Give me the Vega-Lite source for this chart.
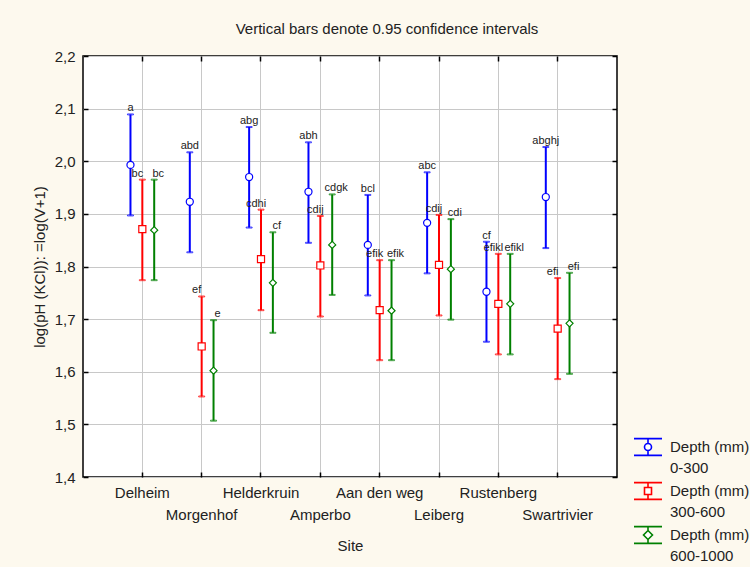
{
  "$schema": "https://vega.github.io/schema/vega-lite/v6.json",
  "width": 534,
  "height": 421,
  "autosize": {"type": "none"},
  "padding": {"left": 83, "top": 56, "right": 133, "bottom": 90},
  "background": "#fdf9ee",
  "title": {
    "text": "Vertical bars denote 0.95 confidence intervals",
    "anchor": "middle",
    "dx": 37,
    "offset": 12,
    "fontSize": 15,
    "fontWeight": "normal",
    "color": "#222222"
  },
  "data": {
    "values": [
      {"site": "Delheim", "depth": "0-300", "mean": 1.993, "lo": 1.897, "hi": 2.089, "grp": "a"},
      {"site": "Delheim", "depth": "300-600", "mean": 1.871, "lo": 1.774, "hi": 1.965, "grp": "bc"},
      {"site": "Delheim", "depth": "600-1000", "mean": 1.869, "lo": 1.774, "hi": 1.965, "grp": "bc"},
      {"site": "Morgenhof", "depth": "0-300", "mean": 1.923, "lo": 1.827, "hi": 2.017, "grp": "abd"},
      {"site": "Morgenhof", "depth": "300-600", "mean": 1.648, "lo": 1.553, "hi": 1.743, "grp": "ef"},
      {"site": "Morgenhof", "depth": "600-1000", "mean": 1.602, "lo": 1.507, "hi": 1.698, "grp": "e"},
      {"site": "Helderkruin", "depth": "0-300", "mean": 1.970, "lo": 1.874, "hi": 2.065, "grp": "abg"},
      {"site": "Helderkruin", "depth": "300-600", "mean": 1.814, "lo": 1.717, "hi": 1.908, "grp": "cdhi"},
      {"site": "Helderkruin", "depth": "600-1000", "mean": 1.769, "lo": 1.674, "hi": 1.865, "grp": "cf"},
      {"site": "Amperbo", "depth": "0-300", "mean": 1.942, "lo": 1.845, "hi": 2.036, "grp": "abh"},
      {"site": "Amperbo", "depth": "300-600", "mean": 1.802, "lo": 1.705, "hi": 1.896, "grp": "cdij"},
      {"site": "Amperbo", "depth": "600-1000", "mean": 1.841, "lo": 1.746, "hi": 1.937, "grp": "cdgk"},
      {"site": "Aan den weg", "depth": "0-300", "mean": 1.841, "lo": 1.745, "hi": 1.936, "grp": "bcl"},
      {"site": "Aan den weg", "depth": "300-600", "mean": 1.717, "lo": 1.622, "hi": 1.812, "grp": "efik"},
      {"site": "Aan den weg", "depth": "600-1000", "mean": 1.716, "lo": 1.622, "hi": 1.812, "grp": "efik"},
      {"site": "Leiberg", "depth": "0-300", "mean": 1.883, "lo": 1.787, "hi": 1.979, "grp": "abc"},
      {"site": "Leiberg", "depth": "300-600", "mean": 1.803, "lo": 1.707, "hi": 1.898, "grp": "cdij"},
      {"site": "Leiberg", "depth": "600-1000", "mean": 1.795, "lo": 1.699, "hi": 1.890, "grp": "cdi"},
      {"site": "Rustenberg", "depth": "0-300", "mean": 1.752, "lo": 1.657, "hi": 1.847, "grp": "cf"},
      {"site": "Rustenberg", "depth": "300-600", "mean": 1.729, "lo": 1.633, "hi": 1.824, "grp": "efikl"},
      {"site": "Rustenberg", "depth": "600-1000", "mean": 1.729, "lo": 1.633, "hi": 1.824, "grp": "efikl"},
      {"site": "Swartrivier", "depth": "0-300", "mean": 1.932, "lo": 1.835, "hi": 2.027, "grp": "abghj"},
      {"site": "Swartrivier", "depth": "300-600", "mean": 1.682, "lo": 1.586, "hi": 1.778, "grp": "efi"},
      {"site": "Swartrivier", "depth": "600-1000", "mean": 1.692, "lo": 1.596, "hi": 1.788, "grp": "efi"}
    ]
  },
  "resolve": {"axis": {"x": "independent", "y": "independent"}},
  "layer": [
    {
      "mark": {"type": "rule", "strokeWidth": 2},
      "encoding": {
        "x": {
          "field": "site", "type": "nominal",
          "sort": ["Delheim", "Morgenhof", "Helderkruin", "Amperbo", "Aan den weg", "Leiberg", "Rustenberg", "Swartrivier"],
          "scale": {"type": "band", "paddingInner": 0, "paddingOuter": 0.5},
          "axis": {
            "title": "Site", "grid": true, "domain": false, "bandPosition": 0.5,
            "tickSize": -5, "labelAngle": 0, "labelBaseline": "top", "labelPadding": 13,
            "labelLineHeight": 22, "labelOverlap": false, "labelFlush": false,
            "labelExpr": "indexof(['Morgenhof','Amperbo','Leiberg','Swartrivier'], datum.value) >= 0 ? ['', datum.label] : datum.label",
            "titlePadding": 16
          }
        },
        "xOffset": {
          "field": "depth", "type": "nominal", "sort": ["0-300", "300-600", "600-1000"],
          "scale": {"type": "band", "paddingInner": 0, "paddingOuter": 1.69}
        },
        "y": {
          "field": "lo", "type": "quantitative",
          "scale": {"domain": [1.4, 2.2], "zero": false, "nice": false},
          "axis": {
            "title": "log(pH (KCl)): =log(V+1)", "grid": true, "domain": false, "tickSize": -5,
            "values": [1.4, 1.5, 1.6, 1.7, 1.8, 1.9, 2.0, 2.1, 2.2],
            "labelExpr": "replace(format(datum.value, '.1f'), '.', ',')",
            "labelPadding": 13, "titlePadding": 7
          }
        },
        "y2": {"field": "hi"},
        "color": {
          "field": "depth", "type": "nominal",
          "scale": {"domain": ["0-300", "300-600", "600-1000"], "range": ["#0000ff", "#ff0000", "#008000"]},
          "legend": {
            "title": null, "orient": "none", "legendX": 550, "legendY": 376, "padding": 0,
            "symbolSize": 784, "symbolStrokeWidth": 1.6, "symbolFillColor": "white",
            "labelFontSize": 15, "labelColor": "#222222", "labelOffset": 7, "rowPadding": -7,
            "labelBaseline": "middle",
            "labelExpr": "['Depth (mm)', datum.label]",
            "encode": {
              "symbols": {"update": {
                "shape": {"signal": "datum.value === '0-300' ? 'M-1,-0.6H1M-1,0.6H1M0,-0.6V-0.25M0,0.25V0.6M0.25,0A0.25,0.25,0,1,1,-0.25,0A0.25,0.25,0,1,1,0.25,0' : datum.value === '300-600' ? 'M-1,-0.6H1M-1,0.6H1M0,-0.6V-0.25M0,0.25V0.6M-0.25,-0.25H0.25V0.25H-0.25Z' : 'M-1,-0.6H1M-1,0.6H1M0,-0.6V-0.32M0,0.32V0.6M0,-0.32L0.32,0L0,0.32L-0.32,0Z'"},
                "fill": {"value": "white"},
                "strokeWidth": {"value": 1.6}
              }},
              "labels": {"update": {
                "lineHeight": {"value": 21}
              }}
            }
          }
        }
      }
    },
    {
      "mark": {"type": "tick", "filled": false, "thickness": 1, "strokeWidth": 1, "size": 6, "orient": "horizontal"},
      "encoding": {
        "x": {
          "field": "site", "type": "nominal",
          "sort": ["Delheim", "Morgenhof", "Helderkruin", "Amperbo", "Aan den weg", "Leiberg", "Rustenberg", "Swartrivier"],
          "axis": {"orient": "top", "labels": false, "title": null, "grid": false, "domain": false, "tickSize": -5, "bandPosition": 0.5}
        },
        "xOffset": {"field": "depth", "type": "nominal", "sort": ["0-300", "300-600", "600-1000"]},
        "y": {
          "field": "hi", "type": "quantitative",
          "axis": {"orient": "right", "labels": false, "title": null, "grid": false, "domain": false, "tickSize": -5,
                   "values": [1.4, 1.5, 1.6, 1.7, 1.8, 1.9, 2.0, 2.1, 2.2]}
        },
        "color": {"field": "depth", "type": "nominal"}
      }
    },
    {
      "mark": {"type": "tick", "filled": false, "thickness": 1, "strokeWidth": 1, "size": 6, "orient": "horizontal"},
      "encoding": {
        "x": {"field": "site", "type": "nominal", "sort": ["Delheim", "Morgenhof", "Helderkruin", "Amperbo", "Aan den weg", "Leiberg", "Rustenberg", "Swartrivier"], "axis": null},
        "xOffset": {"field": "depth", "type": "nominal", "sort": ["0-300", "300-600", "600-1000"]},
        "y": {"field": "lo", "type": "quantitative", "axis": null},
        "color": {"field": "depth", "type": "nominal"}
      }
    },
    {
      "mark": {"type": "point", "filled": false, "fill": "white", "fillOpacity": 1, "strokeWidth": 1.2, "size": 50, "opacity": 1},
      "encoding": {
        "x": {"field": "site", "type": "nominal", "sort": ["Delheim", "Morgenhof", "Helderkruin", "Amperbo", "Aan den weg", "Leiberg", "Rustenberg", "Swartrivier"], "axis": null},
        "xOffset": {"field": "depth", "type": "nominal", "sort": ["0-300", "300-600", "600-1000"]},
        "y": {"field": "mean", "type": "quantitative", "axis": null},
        "color": {"field": "depth", "type": "nominal"},
        "shape": {
          "field": "depth", "type": "nominal", "sort": ["0-300", "300-600", "600-1000"],
          "scale": {"range": ["circle", "square", "diamond"]},
          "legend": null
        }
      }
    },
    {
      "transform": [{"filter": "datum.depth === '0-300'"}],
      "mark": {"type": "text", "baseline": "bottom", "dy": -1, "fontSize": 11, "color": "#222222"},
      "encoding": {
        "x": {"field": "site", "type": "nominal", "sort": ["Delheim", "Morgenhof", "Helderkruin", "Amperbo", "Aan den weg", "Leiberg", "Rustenberg", "Swartrivier"], "axis": null},
        "xOffset": {"field": "depth", "type": "nominal", "sort": ["0-300", "300-600", "600-1000"]},
        "y": {"field": "hi", "type": "quantitative", "axis": null},
        "text": {"field": "grp"}
      }
    },
    {
      "transform": [{"filter": "datum.depth === '300-600'"}],
      "mark": {"type": "text", "baseline": "bottom", "dy": -1, "dx": -5, "fontSize": 11, "color": "#222222"},
      "encoding": {
        "x": {"field": "site", "type": "nominal", "sort": ["Delheim", "Morgenhof", "Helderkruin", "Amperbo", "Aan den weg", "Leiberg", "Rustenberg", "Swartrivier"], "axis": null},
        "xOffset": {"field": "depth", "type": "nominal", "sort": ["0-300", "300-600", "600-1000"]},
        "y": {"field": "hi", "type": "quantitative", "axis": null},
        "text": {"field": "grp"}
      }
    },
    {
      "transform": [{"filter": "datum.depth === '600-1000'"}],
      "mark": {"type": "text", "baseline": "bottom", "dy": -1, "dx": 4, "fontSize": 11, "color": "#222222"},
      "encoding": {
        "x": {"field": "site", "type": "nominal", "sort": ["Delheim", "Morgenhof", "Helderkruin", "Amperbo", "Aan den weg", "Leiberg", "Rustenberg", "Swartrivier"], "axis": null},
        "xOffset": {"field": "depth", "type": "nominal", "sort": ["0-300", "300-600", "600-1000"]},
        "y": {"field": "hi", "type": "quantitative", "axis": null},
        "text": {"field": "grp"}
      }
    }
  ],
  "config": {
    "font": "Liberation Sans",
    "view": {"fill": "white", "stroke": "black", "strokeWidth": 1.5},
    "axis": {
      "labelFont": "Liberation Sans", "labelFontSize": 15, "labelColor": "#222222",
      "titleFont": "Liberation Sans", "titleFontSize": 15, "titleFontWeight": "normal", "titleColor": "#222222",
      "tickColor": "black", "tickWidth": 1.5, "gridColor": "#c8c8c8", "gridWidth": 1
    },
    "legend": {"labelFont": "Liberation Sans"},
    "text": {"font": "Liberation Sans"}
  }
}
